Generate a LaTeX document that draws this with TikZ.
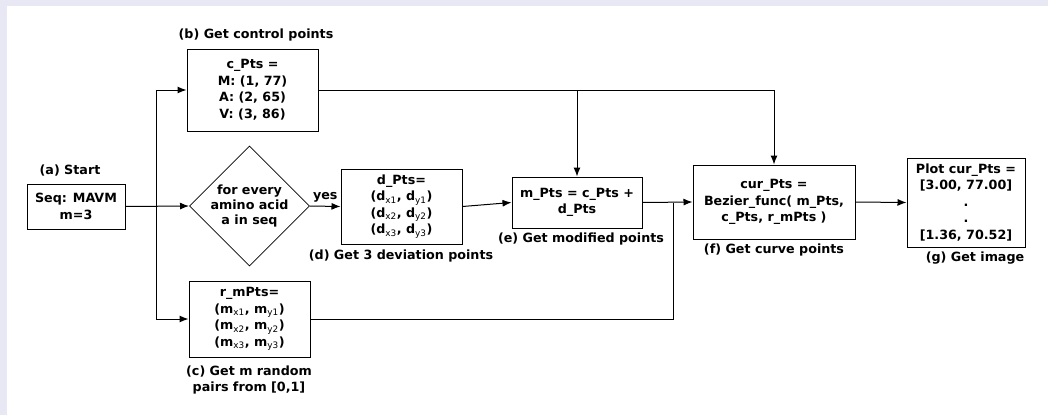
\documentclass[tikz,border=0pt]{standalone}
\usepackage{fontspec}
\setmainfont{DejaVu Sans}
\usetikzlibrary{positioning}
\usetikzlibrary{shapes.geometric}
\usetikzlibrary{arrows.meta}
\definecolor{framebg}{HTML}{E8E8F4}
\newcommand{\sub}[1]{\textsubscript{\mdseries #1}}

\begin{document}
\begin{tikzpicture}[
x=1pt, y=-1pt,
box/.style={
  draw,
  rectangle,
  align=center,
  inner sep=2pt,
  line width=1pt,
  font=\bfseries\fontsize{12.7}{16.5}\selectfont
  },
decision/.style={
  draw,
  diamond,
  align=center,
  inner sep=0pt,
  line width=0.8pt,
  font=\bfseries\fontsize{12.7}{15}\selectfont
  },
caption/.style={
  align=center,
  font=\bfseries\fontsize{12.7}{16}\selectfont
  },
arr/.style={-{Latex[length=9pt,width=7pt]}, line width=1pt},
link/.style={line width=1pt}
]
% frame
\fill[framebg] (0,0) rectangle (1048,415);
\fill[white] (7,6) rectangle (1048,415);
\useasboundingbox (0,0) rectangle (1048,415);

% steps
\node[box, minimum width=98pt, minimum height=45pt] (start) at (76,206.5) {Seq: MAVM\\m=3};
\node[box, minimum width=131pt, minimum height=82pt] (cpts) at (252.5,90) {c\_Pts =\\M: (1, 77)\\A: (2, 65)\\V: (3, 86)};
\node[decision, minimum width=109pt, minimum height=106pt] (loop) at (249.5,206) {for every\\amino acid\\a in seq};
\node[box, minimum width=121pt, minimum height=76pt] (rpts) at (249.5,319) {r\_mPts=\\(m\sub{x1}, m\sub{y1})\\(m\sub{x2}, m\sub{y2})\\(m\sub{x3}, m\sub{y3})};
\node[box, minimum width=121pt, minimum height=75pt] (dpts) at (401.5,206.5) {d\_Pts=\\(d\sub{x1}, d\sub{y1})\\(d\sub{x2}, d\sub{y2})\\(d\sub{x3}, d\sub{y3})};
\node[box, minimum width=130pt, minimum height=51pt] (mpts) at (577,202.5) {m\_Pts = c\_Pts +\\d\_Pts};
\node[box, minimum width=162pt, minimum height=74pt] (cur) at (774,202) {cur\_Pts =\\Bezier\_func( m\_Pts,\\c\_Pts, r\_mPts )};
\node[box, minimum width=118pt, minimum height=89pt] (plot) at (966,202.5) {Plot cur\_Pts =\\{}[3.00, 77.00]\\.\\.\\{}[1.36, 70.52]};

% captions
\node[caption] (capa) at (70,171) {(a) Start};
\node[caption] (capb) at (256,35) {(b) Get control points};
\node[caption] (capc) at (249,380) {(c) Get m random\\pairs from [0,1]};
\node[caption] (capd) at (401,256) {(d) Get 3 deviation points};
\node[caption] (cape) at (581,239) {(e) Get modified points};
\node[caption] (capf) at (774,250) {(f) Get curve points};
\node[caption] (capg) at (975,258) {(g) Get image};

% connectors
\coordinate (split) at (156,206.5);
\coordinate (join) at (673,202.5);
\draw[arr] (start.east) -- (loop.west);
\draw[arr] (split) |- (cpts.west);
\draw[arr] (split) |- (rpts.west);
\draw[arr] (loop.east) -- node[caption, above] {yes} (dpts.west);
\draw[arr] (dpts.east) -- (mpts.west);
\draw[arr] (cpts.east) -| (cur.north);
\draw[arr] (cpts.east -| mpts.north) -- (mpts.north);
\draw[arr] (mpts.east) -- (cur.west);
\draw[link] (rpts.east) -| (join);
\draw[arr] (cur.east) -- (plot.west);
\end{tikzpicture}
\end{document}
